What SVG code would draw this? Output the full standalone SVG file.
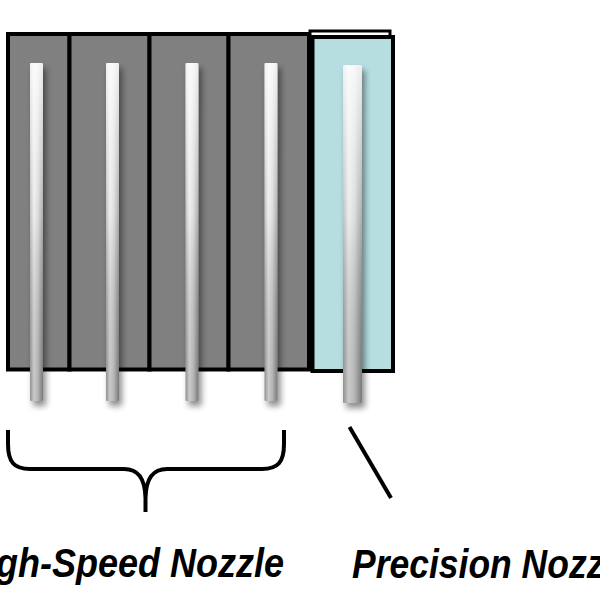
<svg xmlns="http://www.w3.org/2000/svg" width="600" height="600" viewBox="0 0 600 600">
  <style>
    .cell { fill: #808080; stroke: #000; stroke-width: 4; }
    .blue { fill: #b6dee1; stroke: #000; stroke-width: 4; }
    .back { fill: #fff; stroke: #000; stroke-width: 3; }
    .line { fill: none; stroke: #000; stroke-width: 4; stroke-linecap: butt; }
    .label { font-family: "Liberation Sans", Arial, sans-serif; font-weight: bold; font-style: italic; font-size: 40px; fill: #000; }
  </style>
  <defs>
    <linearGradient id="hg" x1="0" y1="0" x2="1" y2="0">
      <stop offset="0" stop-color="#a4a4a4"/>
      <stop offset="0.3" stop-color="#e6e6e6"/>
      <stop offset="0.6" stop-color="#cfcfcf"/>
      <stop offset="1" stop-color="#888888"/>
    </linearGradient>
    <linearGradient id="vg" x1="0" y1="0" x2="0" y2="1">
      <stop offset="0" stop-color="#fff" stop-opacity="0.85"/>
      <stop offset="0.45" stop-color="#fff" stop-opacity="0.3"/>
      <stop offset="1" stop-color="#000" stop-opacity="0.12"/>
    </linearGradient>
    <filter id="sh" x="-100%" y="-10%" width="300%" height="120%">
      <feGaussianBlur in="SourceAlpha" stdDeviation="3"/>
      <feOffset dx="3" dy="5" result="b"/>
      <feComponentTransfer><feFuncA type="linear" slope="0.45"/></feComponentTransfer>
      <feMerge><feMergeNode/><feMergeNode in="SourceGraphic"/></feMerge>
    </filter>
  </defs>
  <rect width="600" height="600" fill="#fff"/>

  <g id="high-speed-block">
    <rect class="cell" x="8" y="34" width="61.5" height="335.5"/>
    <rect class="cell" x="69.5" y="34" width="80" height="335.5"/>
    <rect class="cell" x="149.5" y="34" width="79" height="335.5"/>
    <rect class="cell" x="228.5" y="34" width="80.5" height="335.5"/>
  </g>

  <g id="precision-block">
    <rect class="back" x="310" y="31" width="80" height="336"/>
    <rect class="blue" x="312.5" y="37" width="80.5" height="334"/>
  </g>

  <g id="nozzle-1" filter="url(#sh)">
    <rect x="30" y="63" width="13" height="338" rx="1" fill="url(#hg)"/>
    <rect x="30" y="63" width="13" height="338" rx="1" fill="url(#vg)"/>
  </g>
  <g id="nozzle-2" filter="url(#sh)">
    <rect x="106" y="63" width="13" height="338" rx="1" fill="url(#hg)"/>
    <rect x="106" y="63" width="13" height="338" rx="1" fill="url(#vg)"/>
  </g>
  <g id="nozzle-3" filter="url(#sh)">
    <rect x="185.5" y="63" width="13" height="338" rx="1" fill="url(#hg)"/>
    <rect x="185.5" y="63" width="13" height="338" rx="1" fill="url(#vg)"/>
  </g>
  <g id="nozzle-4" filter="url(#sh)">
    <rect x="264.5" y="63" width="13" height="338" rx="1" fill="url(#hg)"/>
    <rect x="264.5" y="63" width="13" height="338" rx="1" fill="url(#vg)"/>
  </g>
  <g id="nozzle-precision" filter="url(#sh)">
    <rect x="343" y="65" width="19" height="338" rx="1" fill="url(#hg)"/>
    <rect x="343" y="65" width="19" height="338" rx="1" fill="url(#vg)"/>
  </g>

  <g id="connectors">
    <path class="line" d="M 8 430 L 8 444 C 8 462 14 469 30 469 L 124 469 C 138 469 145 478 145.5 498 L 145.5 512 M 145.5 498 C 146 478 153 469 167 469 L 262 469 C 278 469 284 462 284 444 L 284 430"/>
    <line class="line" x1="349.5" y1="427" x2="391" y2="498" stroke-width="3.5"/>
  </g>

  <g id="labels">
    <text class="label" x="-40" y="577" textLength="324" lengthAdjust="spacingAndGlyphs">High-Speed Nozzle</text>
    <text class="label" x="352" y="578" textLength="282" lengthAdjust="spacingAndGlyphs">Precision Nozzle</text>
  </g>
</svg>
